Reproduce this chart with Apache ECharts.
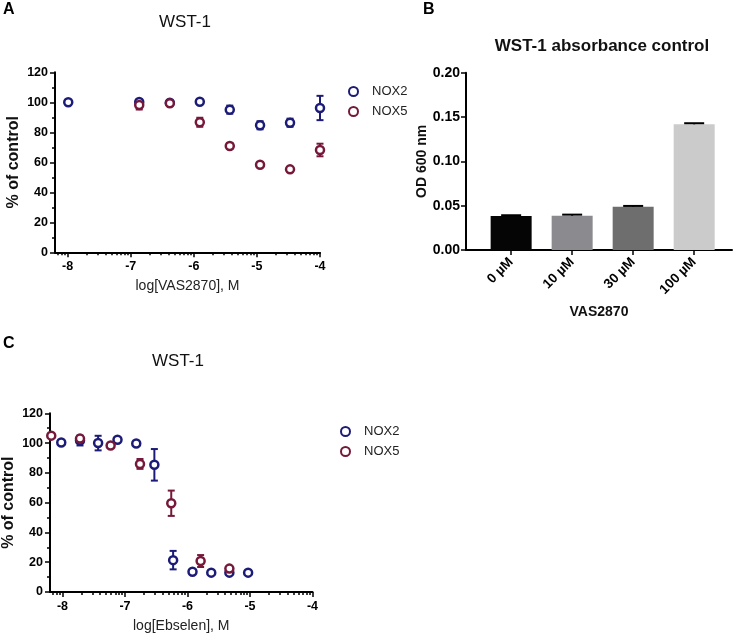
<!DOCTYPE html>
<html><head><meta charset="utf-8">
<script src="https://cdn.jsdelivr.net/npm/echarts@6.0.0/dist/echarts.min.js"></script>
<style>html,body{margin:0;padding:0;background:#fff}#c{width:738px;height:634px}</style>
</head><body><div id="c"></div>
<script>
// ---------- Panel A: VAS2870, WST-1 ----------
const vasLog      = [-7.99, -6.865, -6.38, -5.905, -5.43, -4.95, -4.475, -4.0];
const vasNox2     = [100, 100.2, 99.7, 100.4, 95.1, 84.7, 86.4, 96.2];
const vasNox2Sem  = [0.5, 1.5, 1, 0.5, 2.7, 2.7, 2.7, 8.1];
const vasNox5     = [null, 98.2, 99.3, 86.7, 70.9, 58.4, 55.3, 68.2];
const vasNox5Sem  = [null, 3, 1, 3, 2, 0.5, 0.5, 4.2];

// ---------- Panel B: absorbance control ----------
const odCategories = ['0 µM', '10 µM', '30 µM', '100 µM'];
const odValues     = [0.0384, 0.0387, 0.0487, 0.1418];
const odSem        = [0.0008, 0.0012, 0.0010, 0.0012];

// ---------- Panel C: Ebselen, WST-1 ----------
const ebsNox2Log = [-8.02, -7.72, -7.43, -7.12, -6.82, -6.53, -6.23, -5.92, -5.62, -5.33, -5.03];
const ebsNox2    = [100.4, 101.7, 100, 102.2, 99.7, 85.4, 21.4, 13.6, 13, 13, 13];
const ebsNox2Sem = [0.5, 3.3, 4.9, 0.5, 0.5, 10.6, 6.2, 0.5, 0.5, 0.5, 0.5];
const ebsNox5Log = [-8.18, -7.72, -7.23, -6.76, -6.26, -5.79, -5.33];
const ebsNox5    = [105, 103, 98.4, 86, 59.6, 20.8, 15.7];
const ebsNox5Sem = [0.5, 1.5, 0.5, 3.3, 8.5, 4, 0.5];

// ---------- tick labels ----------
const logTicks = [-8, -7, -6, -5, -4];
const barTicks = [0, 1, 2, 3];

// ---------- styles ----------
const BLUE = '#1c1c78', RED = '#76183a';
const barColors = ['#050505', '#8b8b8f', '#6e6e6e', '#cbcbcb'];
const FF = 'Liberation Sans, Arial, sans-serif';

function logMinor(min, max) {
  const out = [];
  for (let d = Math.floor(min) - 1; d <= Math.ceil(max); d++) {
    for (let k = 2; k <= 9; k++) {
      const v = d + Math.log10(k);
      if (v > min && v < max) out.push(v);
    }
  }
  return out;
}
function pts(xs, ys) { return xs.map((x, i) => [x, ys[i]]).filter(p => p[1] != null); }
function errRender(capHalf, upperOnly) {
  return function (params, api) {
    const x = api.value(0), lo = api.value(1), hi = api.value(2);
    const a = api.coord([x, lo]), b = api.coord([x, hi]);
    const st = { stroke: api.visual('color'), lineWidth: 2 };
    const ch = [
      { type: 'line', shape: { x1: a[0], y1: a[1], x2: b[0], y2: b[1] }, style: st },
      { type: 'line', shape: { x1: b[0] - capHalf, y1: b[1], x2: b[0] + capHalf, y2: b[1] }, style: st }
    ];
    if (!upperOnly) ch.push({ type: 'line', shape: { x1: a[0] - capHalf, y1: a[1], x2: a[0] + capHalf, y2: a[1] }, style: st });
    return { type: 'group', children: ch };
  };
}

const axisLineS = { show: true, onZero: false, lineStyle: { color: '#000', width: 2 } };
const tickS = { color: '#000', width: 1.5 };
const tickLabel = { color: '#000', fontWeight: 'bold', fontFamily: FF };

function logXAxis(gridIndex, name) {
  return [{
    gridIndex, type: 'value', min: -8.2, max: -4, position: 'bottom',
    axisLine: axisLineS,
    axisTick: { show: true, customValues: logTicks, length: 5, lineStyle: tickS },
    axisLabel: Object.assign({ customValues: logTicks, fontSize: 12.5, margin: 8, formatter: v => String(v) }, tickLabel),
    splitLine: { show: false },
    name, nameLocation: 'middle', nameGap: 27,
    nameTextStyle: { fontSize: 14, color: '#222', fontFamily: FF }
  }, {
    gridIndex, type: 'value', min: -8.2, max: -4, position: 'bottom',
    axisLine: { show: false, onZero: false },
    axisTick: { show: true, customValues: logMinor(-8.2, -4), length: 3, lineStyle: tickS },
    axisLabel: { show: false },
    splitLine: { show: false }
  }];
}
function pctYAxis(gridIndex) {
  return {
    gridIndex, type: 'value', min: 0, max: 120, interval: 20,
    axisLine: axisLineS,
    axisTick: { show: true, length: 5, lineStyle: tickS },
    minorTick: { show: true, splitNumber: 2, length: 3, lineStyle: tickS },
    axisLabel: Object.assign({ fontSize: 12.5, margin: 7 }, tickLabel),
    splitLine: { show: false },
    name: '% of control', nameLocation: 'middle', nameGap: 33,
    nameTextStyle: { fontSize: 16, fontWeight: 'bold', color: '#111', fontFamily: FF }
  };
}
function scatter(name, xi, yi, data, color) {
  return { name, type: 'scatter', xAxisIndex: xi, yAxisIndex: yi, data, symbol: 'circle', symbolSize: 8,
    itemStyle: { color: '#fff', borderColor: color, borderWidth: 2.5, opacity: 1 }, z: 4 };
}
function errSeries(xi, yi, xs, ys, es, color) {
  const data = [];
  xs.forEach((x, i) => { if (ys[i] != null) data.push([x, ys[i] - es[i], ys[i] + es[i]]); });
  return { name: 'err', type: 'custom', xAxisIndex: xi, yAxisIndex: yi, data, renderItem: errRender(3.5, false),
    itemStyle: { color }, encode: { x: 0, y: [1, 2] }, z: 3, silent: true };
}

const legendBase = {
  data: ['NOX2', 'NOX5'], orient: 'vertical', itemWidth: 9, itemHeight: 9, itemGap: 7,
  textStyle: { fontSize: 13, color: '#222', fontFamily: FF, padding: [0, 0, 0, 9] }
};

const option = {
  animation: false,
  backgroundColor: '#fff',
  title: [
    { text: 'A', left: 3, top: 2, padding: 0, textStyle: { fontSize: 16, fontWeight: 'bold', color: '#000', fontFamily: FF } },
    { text: 'WST-1', left: 185, top: 14, padding: 0, textAlign: 'center', textStyle: { fontSize: 17, fontWeight: 'normal', color: '#111', fontFamily: FF } },
    { text: 'B', left: 423, top: 2, padding: 0, textStyle: { fontSize: 16, fontWeight: 'bold', color: '#000', fontFamily: FF } },
    { text: 'WST-1 absorbance control', left: 602, top: 38, padding: 0, textAlign: 'center', textStyle: { fontSize: 17, fontWeight: 'bold', color: '#111', fontFamily: FF } },
    { text: 'C', left: 3, top: 336, padding: 0, textStyle: { fontSize: 16, fontWeight: 'bold', color: '#000', fontFamily: FF } },
    { text: 'WST-1', left: 178, top: 353, padding: 0, textAlign: 'center', textStyle: { fontSize: 17, fontWeight: 'normal', color: '#111', fontFamily: FF } }
  ],
  legend: [
    Object.assign({ left: 343, top: 80 }, legendBase),
    Object.assign({ left: 335, top: 420 }, legendBase)
  ],
  grid: [
    { left: 55, top: 72.3, width: 265, height: 180 },
    { left: 466, top: 72.7, width: 266, height: 177.3 },
    { left: 50, top: 413.3, width: 262.5, height: 179.4 }
  ],
  xAxis: [
    ...logXAxis(0, 'log[VAS2870], M'),
    {
      gridIndex: 1, type: 'value', min: -0.74, max: 3.62, position: 'bottom',
      axisLine: axisLineS,
      axisTick: { show: true, customValues: barTicks, length: 5, lineStyle: tickS },
      axisLabel: Object.assign({ customValues: barTicks, rotate: 45, fontSize: 13.5, margin: 10, formatter: v => odCategories[Math.round(v)] }, tickLabel),
      splitLine: { show: false },
      name: 'VAS2870', nameLocation: 'middle', nameGap: 55,
      nameTextStyle: { fontSize: 14, fontWeight: 'bold', color: '#111', fontFamily: FF }
    },
    ...logXAxis(2, 'log[Ebselen], M')
  ],
  yAxis: [
    pctYAxis(0),
    {
      gridIndex: 1, type: 'value', min: 0, max: 0.2, interval: 0.05,
      axisLine: axisLineS,
      axisTick: { show: true, length: 5, lineStyle: tickS },
      axisLabel: Object.assign({ fontSize: 14, margin: 6, formatter: v => v.toFixed(2) }, tickLabel),
      splitLine: { show: false },
      name: 'OD 600 nm', nameLocation: 'middle', nameGap: 33,
      nameTextStyle: { fontSize: 14, fontWeight: 'bold', color: '#111', fontFamily: FF }
    },
    pctYAxis(2)
  ],
  series: [
    errSeries(0, 0, vasLog, vasNox2, vasNox2Sem, BLUE),
    errSeries(0, 0, vasLog, vasNox5, vasNox5Sem, RED),
    scatter('NOX2', 0, 0, pts(vasLog, vasNox2), BLUE),
    scatter('NOX5', 0, 0, pts(vasLog, vasNox5), RED),
    {
      name: 'OD', type: 'bar', xAxisIndex: 2, yAxisIndex: 1, barWidth: 41,
      data: odValues.map((v, i) => ({ value: [i, v], itemStyle: { color: barColors[i] } })),
      z: 2
    },
    {
      name: 'odErr', type: 'custom', xAxisIndex: 2, yAxisIndex: 1,
      data: odValues.map((v, i) => [i, v, v + odSem[i]]),
      renderItem: errRender(10, true), itemStyle: { color: '#000' }, encode: { x: 0, y: [1, 2] }, z: 3
    },
    errSeries(3, 2, ebsNox2Log, ebsNox2, ebsNox2Sem, BLUE),
    errSeries(3, 2, ebsNox5Log, ebsNox5, ebsNox5Sem, RED),
    scatter('NOX2', 3, 2, pts(ebsNox2Log, ebsNox2), BLUE),
    scatter('NOX5', 3, 2, pts(ebsNox5Log, ebsNox5), RED)
  ]
};
const chart = echarts.init(document.getElementById('c'), null, { renderer: 'canvas' });
chart.setOption(option);
</script></body></html>
